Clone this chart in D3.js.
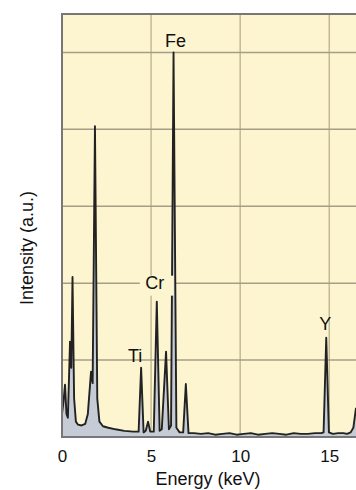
<!DOCTYPE html>
<html>
<head>
<meta charset="utf-8">
<script src="https://cdn.jsdelivr.net/npm/d3@7"></script>
<style>
  body { margin: 0; background: white; }
  text { font-family: "Liberation Sans", Arial, sans-serif; }
</style>
</head>
<body>
<div id="chart"></div>
<script>
// spectrum (keV, a.u.)
var energy = [0.0, 0.08, 0.17, 0.25, 0.33, 0.45, 0.52, 0.59, 0.68, 0.78, 0.9, 1.1, 1.3, 1.45, 1.63, 1.72, 1.85, 1.98, 2.1, 2.3, 2.6, 3.0, 3.5, 4.0, 4.3,
  4.44, 4.58, 4.7, 4.83, 4.95, 5.15, 5.32, 5.48, 5.6, 5.84, 6.0, 6.12, 6.26, 6.42, 6.6, 6.8, 6.95, 7.1,
  7.4, 7.8, 8.2, 8.6, 9.0, 9.4, 9.8, 10.2, 10.6, 11.0, 11.4, 11.8, 12.2, 12.6, 13.0, 13.4, 13.8, 14.2, 14.55,
  14.68, 14.83, 14.98, 15.2, 15.5, 15.8, 16.0, 16.2, 16.35, 16.5];
var intensity = [0.3, 0.45, 0.68, 0.3, 0.25, 1.24, 0.9, 2.08, 0.5, 0.2, 0.16, 0.15, 0.17, 0.3, 0.85, 0.7, 4.04, 0.5, 0.2, 0.14, 0.12, 0.1, 0.08, 0.07, 0.07,
  0.9, 0.06, 0.08, 0.2, 0.07, 0.07, 1.76, 0.08, 0.1, 1.11, 0.1, 0.15, 5.0, 0.12, 0.06, 0.06, 0.69, 0.05,
  0.05, 0.04, 0.05, 0.03, 0.04, 0.05, 0.03, 0.04, 0.05, 0.03, 0.04, 0.05, 0.04, 0.03, 0.05, 0.04, 0.04, 0.05, 0.05,
  0.06, 1.29, 0.06, 0.04, 0.05, 0.05, 0.04, 0.06, 0.12, 0.38];

var xTicks = [0, 5, 10, 15];
var yGrid = [1, 2, 3, 4, 5];

// element labels sit over their peaks
var peakNames = ["Ti", "Cr", "Fe", "Y"];
var peakEnergy = [4.44, 5.32, 6.26, 14.83];
var peakHeight = [0.9, 1.76, 5.0, 1.29];

var w = 356;
var h = 490;
var margin = { top: 14, right: 0, bottom: 53, left: 62 };

var svg = d3.select("#chart")
  .append("svg")
  .attr("width", w)
  .attr("height", h);

var xScale = d3.scaleLinear()
  .domain([0, 16.5])
  .range([margin.left, w - margin.right]);

var yScale = d3.scaleLinear()
  .domain([0, 5.5])
  .range([h - margin.bottom, margin.top]);

var data = energy.map(function(e, i) { return { e: e, v: intensity[i] }; });

//plot background
svg.append("rect")
  .attr("x", margin.left)
  .attr("y", margin.top)
  .attr("width", w - margin.left - margin.right + 2)
  .attr("height", h - margin.top - margin.bottom)
  .attr("fill", "#fdf5d0");

//grid
svg.append("g")
  .selectAll("line")
  .data(xTicks.slice(1))
  .enter()
  .append("line")
  .attr("x1", function(d) { return xScale(d); })
  .attr("x2", function(d) { return xScale(d); })
  .attr("y1", margin.top)
  .attr("y2", h - margin.bottom)
  .style("stroke", "#c4b992")
  .style("stroke-width", 1.5);

svg.append("g")
  .selectAll("line")
  .data(yGrid)
  .enter()
  .append("line")
  .attr("x1", margin.left)
  .attr("x2", w)
  .attr("y1", function(d) { return yScale(d); })
  .attr("y2", function(d) { return yScale(d); })
  .style("stroke", "#a59e86")
  .style("stroke-width", 1.5);

// spectrum
var area = d3.area()
  .x(function(d) { return xScale(d.e); })
  .y0(yScale(0))
  .y1(function(d) { return yScale(d.v); });

var line = d3.line()
  .x(function(d) { return xScale(d.e); })
  .y(function(d) { return yScale(d.v); });

svg.append("path")
  .datum(data)
  .attr("d", area)
  .style("fill", "#c5ccd6");

svg.append("path")
  .datum(data)
  .attr("d", line)
  .style("fill", "none")
  .style("stroke", "#222")
  .style("stroke-width", 1.9)
  .style("stroke-linejoin", "round");

//border
svg.append("path")
  .attr("d", "M" + w + "," + margin.top + "H" + margin.left + "V" + (h - margin.bottom) + "H" + w)
  .style("fill", "none")
  .style("stroke", "#777")
  .style("stroke-width", 2);

//peak labels
var labelDx = [-6, -2, 2, -1];
var labelDy = [-6, -13, -5, -8];

var labels = svg.append("g")
  .selectAll("g")
  .data(peakNames)
  .enter()
  .append("g");

labels.filter(function(d) { return d == "Cr"; })
  .append("rect")
  .attr("x", function(d, i) { return xScale(peakEnergy[1]) - 17; })
  .attr("y", yScale(peakHeight[1]) - 26)
  .attr("width", 34)
  .attr("height", 20)
  .attr("fill", "#fdf5d0");

labels.append("text")
  .attr("x", function(d, i) { return xScale(peakEnergy[i]) + labelDx[i]; })
  .attr("y", function(d, i) { return yScale(peakHeight[i]) + labelDy[i]; })
  .attr("text-anchor", "middle")
  .style("font-size", "18px")
  .style("fill", "#111")
  .text(function(d) { return d; });

//x axis
var xAxis = d3.axisBottom(xScale)
  .tickValues(xTicks)
  .tickSize(0)
  .tickPadding(13);

var gx = svg.append("g")
  .attr("transform", "translate(0," + (h - margin.bottom) + ")")
  .call(xAxis);
gx.select(".domain").remove();
gx.selectAll("text")
  .style("font-size", "17px")
  .style("font-family", "Liberation Sans, Arial, sans-serif")
  .style("fill", "#111");

// x axis label
svg.append("text")
  .attr("x", 208)
  .attr("y", 485)
  .attr("text-anchor", "middle")
  .style("font-size", "18px")
  .style("fill", "#111")
  .text("Energy (keV)");

// y axis label
svg.append("text")
  .attr("text-anchor", "middle")
  .attr("transform", "translate(33," + 248 + ")rotate(-90)")
  .style("font-size", "18px")
  .style("fill", "#111")
  .text("Intensity (a.u.)");
</script>
</body>
</html>
